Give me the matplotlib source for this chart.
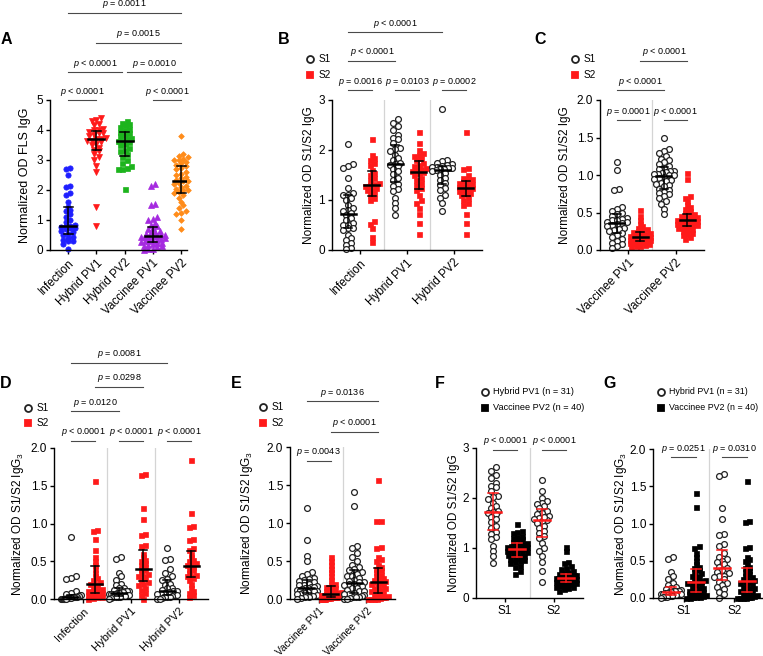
import numpy as np
import matplotlib
matplotlib.use("Agg")
import matplotlib.pyplot as plt
from matplotlib.lines import Line2D

plt.rcParams['font.family'] = ['Liberation Sans', 'DejaVu Sans']
plt.rcParams['mathtext.fontset'] = 'custom'
plt.rcParams['mathtext.it'] = 'Liberation Sans:italic'
plt.rcParams['mathtext.rm'] = 'Liberation Sans'

# ---- data ----
fls_groups = ["Infection", "Hybrid PV1", "Hybrid PV2", "Vaccinee PV1", "Vaccinee PV2"]
fls_inf = [2.75, 2.70, 2.50, 2.15, 2.10, 1.90, 1.85, 1.60, 1.45, 1.35, 1.30, 1.20, 1.10, 1.00, 0.95, 0.85,
           0.80, 0.80, 0.78, 0.75, 0.75, 0.70, 0.65, 0.60, 0.55, 0.50, 0.45, 0.40, 0.35, 0.30, 0.30, 0.20, 0.02]
fls_hpv1 = [4.40, 4.35, 4.30, 4.20, 4.15, 4.05, 4.00, 4.00, 3.95, 3.90, 3.90, 3.85, 3.80, 3.75, 3.70, 3.65,
            3.60, 3.55, 3.50, 3.40, 3.35, 3.30, 3.20, 3.10, 3.00, 2.80, 2.60, 1.45, 0.80, 3.70, 3.65]
fls_hpv2 = [4.30, 4.25, 4.20, 4.15, 4.10, 4.05, 4.00, 3.95, 3.90, 3.85, 3.80, 3.75, 3.70, 3.65, 3.65,
            3.60, 3.55, 3.50, 3.40, 3.35, 3.30, 3.20, 3.10, 3.00, 2.90, 2.80, 2.75, 2.70, 2.70, 2.05]
fls_vpv1 = [2.20, 2.15, 1.55, 1.50, 1.10, 1.05, 1.00, 0.90, 0.85, 0.80, 0.75, 0.70, 0.65, 0.60, 0.60, 0.55,
            0.50, 0.50, 0.48, 0.47, 0.45, 0.45, 0.42, 0.40, 0.38, 0.35, 0.33, 0.30, 0.30, 0.28, 0.25, 0.22,
            0.20, 0.18, 0.15, 0.12, 0.10, 0.05, 0.02, 0.00]
fls_vpv2 = [3.80, 3.20, 3.15, 3.10, 3.05, 3.00, 3.00, 2.95, 2.90, 2.85, 2.80, 2.75, 2.70, 2.60, 2.55, 2.50,
            2.45, 2.40, 2.35, 2.30, 2.30, 2.25, 2.20, 2.15, 2.10, 2.05, 2.00, 2.00, 1.95, 1.90, 1.85, 1.75,
            1.60, 1.50, 1.40, 1.30, 1.25, 1.20, 1.00, 0.70]

# IgG S1 / S2
igg_inf_s1 = [2.12, 1.72, 1.68, 1.65, 1.45, 1.25, 1.15, 1.10, 1.10, 1.05, 1.00, 0.90, 0.85, 0.80, 0.78, 0.75,
              0.70, 0.65, 0.60, 0.55, 0.50, 0.50, 0.45, 0.45, 0.40, 0.30, 0.25, 0.20, 0.15, 0.10, 0.05, 0.02]
igg_inf_s2 = [2.22, 1.90, 1.85, 1.80, 1.75, 1.70, 1.60, 1.55, 1.50, 1.45, 1.40, 1.35, 1.32, 1.30, 1.28, 1.25,
              1.20, 1.20, 1.15, 1.10, 1.05, 1.00, 0.58, 0.53, 0.45, 0.27, 0.17]
igg_hpv1_s1 = [2.62, 2.55, 2.47, 2.40, 2.30, 2.25, 2.22, 2.15, 2.05, 2.02, 1.98, 1.90, 1.85, 1.80, 1.75, 1.72,
               1.70, 1.68, 1.62, 1.58, 1.52, 1.45, 1.40, 1.33, 1.28, 1.22, 1.18, 1.05, 0.95, 0.85, 0.70]
igg_hpv1_s2 = [2.37, 2.15, 2.00, 1.95, 1.90, 1.88, 1.85, 1.80, 1.75, 1.70, 1.68, 1.65, 1.60, 1.58, 1.57, 1.55,
               1.50, 1.45, 1.40, 1.35, 1.30, 1.25, 1.20, 1.10, 1.00, 0.95, 0.85, 0.72, 0.55, 0.33, 1.62]
igg_hpv2_s1 = [2.83, 1.80, 1.78, 1.75, 1.72, 1.70, 1.68, 1.67, 1.66, 1.65, 1.64, 1.63, 1.62, 1.60, 1.58, 1.55,
               1.50, 1.45, 1.40, 1.35, 1.30, 1.25, 1.20, 1.10, 1.05, 0.95, 0.78]
igg_hpv2_s2 = [2.37, 1.65, 1.62, 1.50, 1.45, 1.42, 1.40, 1.38, 1.35, 1.32, 1.30, 1.28, 1.27, 1.25, 1.22, 1.20,
               1.18, 1.15, 1.12, 1.10, 1.05, 1.00, 0.95, 0.90, 0.72, 0.55, 0.32]
igg_vpv1_s1 = [1.17, 1.07, 0.81, 0.80, 0.57, 0.55, 0.52, 0.50, 0.48, 0.45, 0.43, 0.42, 0.40, 0.40, 0.38, 0.37,
               0.36, 0.35, 0.33, 0.32, 0.30, 0.28, 0.27, 0.25, 0.23, 0.20, 0.18, 0.15, 0.12, 0.10, 0.08, 0.05, 0.03]
igg_vpv1_s2 = [0.53, 0.45, 0.40, 0.35, 0.32, 0.30, 0.28, 0.27, 0.25, 0.24, 0.23, 0.22, 0.21, 0.20, 0.20, 0.19,
               0.18, 0.18, 0.17, 0.16, 0.15, 0.15, 0.14, 0.13, 0.12, 0.12, 0.11, 0.10, 0.10, 0.09, 0.08, 0.07,
               0.06, 0.05, 0.04]
igg_vpv2_s1 = [1.49, 1.35, 1.32, 1.30, 1.25, 1.22, 1.20, 1.18, 1.15, 1.12, 1.10, 1.08, 1.06, 1.05, 1.04, 1.03,
               1.02, 1.01, 1.00, 1.00, 0.98, 0.96, 0.95, 0.93, 0.92, 0.90, 0.88, 0.87, 0.85, 0.82, 0.80, 0.78,
               0.76, 0.75, 0.72, 0.70, 0.65, 0.62, 0.55, 0.48]
igg_vpv2_s2 = [1.03, 0.95, 0.72, 0.70, 0.65, 0.60, 0.58, 0.55, 0.52, 0.50, 0.48, 0.47, 0.46, 0.45, 0.44, 0.43,
               0.42, 0.42, 0.41, 0.40, 0.40, 0.39, 0.38, 0.37, 0.36, 0.35, 0.35, 0.34, 0.33, 0.32, 0.30, 0.30,
               0.28, 0.27, 0.25, 0.23, 0.22, 0.20, 0.18, 0.15]

# IgG3 S1 / S2
g3_inf_s1 = [0.82, 0.30, 0.28, 0.27, 0.10, 0.08, 0.06, 0.05, 0.05, 0.04, 0.04, 0.03, 0.03, 0.03, 0.02, 0.02,
             0.02, 0.02, 0.01, 0.01, 0.01, 0.01, 0.01, 0.00, 0.00, 0.00, 0.00, 0.00, 0.00, 0.00]
g3_inf_s2 = [1.56, 0.92, 0.90, 0.80, 0.65, 0.55, 0.50, 0.45, 0.40, 0.35, 0.30, 0.28, 0.25, 0.22, 0.20, 0.20,
             0.18, 0.15, 0.13, 0.12, 0.10, 0.10, 0.08, 0.07, 0.05, 0.05, 0.03, 0.02, 0.01, 0.00]
g3_hpv1_s1 = [0.55, 0.53, 0.35, 0.30, 0.25, 0.20, 0.18, 0.15, 0.14, 0.12, 0.11, 0.10, 0.10, 0.09, 0.09, 0.08,
              0.08, 0.07, 0.07, 0.06, 0.06, 0.05, 0.05, 0.04, 0.04, 0.03, 0.03, 0.02, 0.02, 0.01, 0.00]
g3_hpv1_s2 = [1.66, 1.64, 1.21, 1.06, 0.86, 0.85, 0.72, 0.70, 0.60, 0.55, 0.52, 0.50, 0.48, 0.45, 0.42, 0.40,
              0.38, 0.35, 0.33, 0.30, 0.30, 0.28, 0.25, 0.22, 0.20, 0.18, 0.15, 0.12, 0.08, 0.05, 0.00]
g3_hpv2_s1 = [0.67, 0.53, 0.52, 0.40, 0.35, 0.30, 0.27, 0.25, 0.20, 0.18, 0.15, 0.14, 0.12, 0.10, 0.10, 0.09,
              0.08, 0.07, 0.06, 0.05, 0.05, 0.04, 0.03, 0.03, 0.02, 0.01, 0.00, 0.00]
g3_hpv2_s2 = [1.84, 1.14, 0.97, 0.96, 0.80, 0.78, 0.67, 0.65, 0.60, 0.55, 0.52, 0.50, 0.48, 0.47, 0.45, 0.42,
              0.40, 0.38, 0.35, 0.32, 0.30, 0.30, 0.28, 0.25, 0.20, 0.15, 0.10, 0.08, 0.05, 0.02]
g3_vpv1_s1 = [1.20, 0.77, 0.57, 0.50, 0.35, 0.33, 0.30, 0.28, 0.26, 0.25, 0.24, 0.22, 0.20, 0.19, 0.18, 0.17,
              0.16, 0.16, 0.15, 0.14, 0.13, 0.12, 0.12, 0.11, 0.10, 0.10, 0.09, 0.08, 0.08, 0.07, 0.06, 0.05,
              0.04, 0.03, 0.02, 0.01, 0.00]
g3_vpv1_s2 = [0.55, 0.50, 0.45, 0.40, 0.35, 0.30, 0.25, 0.20, 0.18, 0.16, 0.14, 0.12, 0.10, 0.09, 0.08, 0.08,
              0.07, 0.07, 0.06, 0.06, 0.05, 0.05, 0.04, 0.04, 0.03, 0.03, 0.02, 0.02, 0.02, 0.01, 0.01, 0.01,
              0.00, 0.00, 0.00, 0.00]
g3_vpv2_s1 = [1.41, 1.22, 0.70, 0.67, 0.60, 0.55, 0.50, 0.45, 0.42, 0.40, 0.38, 0.35, 0.33, 0.30, 0.30, 0.28,
              0.25, 0.24, 0.23, 0.22, 0.20, 0.20, 0.18, 0.17, 0.15, 0.14, 0.12, 0.10, 0.10, 0.08, 0.07, 0.06,
              0.05, 0.04, 0.03, 0.02, 0.02, 0.01, 0.00, 0.00]
g3_vpv2_s2 = [1.57, 1.03, 1.02, 0.68, 0.67, 0.55, 0.52, 0.50, 0.45, 0.42, 0.40, 0.38, 0.35, 0.32, 0.30, 0.28,
              0.26, 0.25, 0.24, 0.23, 0.22, 0.20, 0.18, 0.17, 0.15, 0.14, 0.12, 0.10, 0.10, 0.08, 0.06, 0.05,
              0.04, 0.03, 0.02, 0.01, 0.00, 0.00, 0.00, 0.00]

W, H = 763, 656
fig = plt.figure(figsize=(W / 100, H / 100), dpi=100)


def add_ax(l, t, w, h, xlim, ylim):
    ax = fig.add_axes([l / W, 1 - (t + h) / H, w / W, h / H])
    ax.set_xlim(*xlim)
    ax.set_ylim(*ylim)
    ax.spines[['top', 'right']].set_visible(False)
    for s in ('left', 'bottom'):
        ax.spines[s].set_linewidth(1.0)
    ax.tick_params(length=3, width=1.0, labelsize=8.5, pad=2)
    ax.ppx = w / (xlim[1] - xlim[0])
    ax.ppy = h / (ylim[1] - ylim[0])
    ax.box = (l, t, w, h)
    return ax


def swarm(vals, ax, d, maxw):
    # rows of points at similar height, spread sideways (GraphPad-like), offsets in data units
    ypx = np.asarray(vals, float) * ax.ppy
    xs = np.zeros(len(ypx))
    rows, cur, start = [], [], None
    for i in np.argsort(ypx, kind='stable'):
        if start is None or ypx[i] - start >= 0.8 * d:
            if cur:
                rows.append(cur)
            cur, start = [i], ypx[i]
        else:
            cur.append(i)
    rows.append(cur)
    for r in rows:
        n = len(r)
        if n > 1:
            step = min(d, 2 * maxw / (n - 1))
            for k, i in enumerate(r):
                xs[i] = (k - (n - 1) / 2) * step
    return xs / ax.ppx


def group(ax, xc, vals, marker, mfc, mec, ms=3.8, mew=0.9, d=4.6, maxw=10, ecol='black', medw=8, capw=4.5):
    vals = np.asarray(vals, float)
    off = swarm(vals, ax, d, maxw)
    ax.plot(xc + off, vals, ls='none', marker=marker, ms=ms, mfc=mfc, mec=mec, mew=mew,
            zorder=2, clip_on=False)
    q1, med, q3 = np.percentile(vals, [25, 50, 75])
    ax.plot([xc, xc], [q1, q3], color=ecol, lw=1.1, zorder=3)
    for q in (q1, q3):
        ax.plot([xc - capw / ax.ppx, xc + capw / ax.ppx], [q, q], color=ecol, lw=1.1, zorder=3)
    ax.plot([xc - medw / ax.ppx, xc + medw / ax.ppx], [med, med], color=ecol, lw=1.8, zorder=3)


def bracket(ax, x1, x2, y, txt):
    ax.plot([x1, x2], [y, y], color='#4a4a4a', lw=0.8, clip_on=False)
    ax.annotate(txt, ((x1 + x2) / 2, y), xytext=(0, 1.8), textcoords='offset points',
                ha='center', va='bottom', fontsize=6.5, annotation_clip=False)


def ylabel(ax, txt, xpx, size=8.5):
    # xpx = wanted centre of the label in pixels
    l, t, w, h = ax.box
    ax.set_ylabel(txt, fontsize=size)
    ax.yaxis.set_label_coords((xpx + 8 - l) / w, 0.5)


def yfmt(ax, ticks, fmt):
    ax.set_yticks(ticks)
    ax.set_yticklabels([fmt.format(v) for v in ticks])


def seps(ax, xs):
    for x in xs:
        ax.axvline(x, color='#d4d4d4', lw=0.9, zorder=0)


def legend_item(xp, yp, marker, mfc, mec, label, ms=5.0, dx=9, size=7.2):
    fig.add_artist(Line2D([xp / W], [1 - yp / H], marker=marker, ms=ms, mfc=mfc, mec=mec, mew=1.3,
                          ls='none', transform=fig.transFigure))
    fig.text((xp + dx) / W, 1 - yp / H, label, fontsize=size, va='center', ha='left')


def letter(xp, yp, s):
    fig.text(xp / W, 1 - yp / H, s, fontsize=11.5, fontweight='bold', ha='center', va='center')


def rot_labels(ax, ticks, labels, size=8.5):
    ax.set_xticks(ticks)
    ax.set_xticklabels(labels, rotation=45, ha='right', rotation_mode='anchor', fontsize=size)


lt = r'$p$ < 0.0001'
def eq(v):
    return r'$p$ = ' + v


S1 = dict(marker='o', mfc='white', mec='#222222', ms=4.2, mew=0.9, d=5.0)
S2 = dict(marker='s', mfc='#ff1a1a', mec='#ff1a1a', ms=3.6, mew=0.5, d=4.6)

# ---------- A ----------
axA = add_ax(50, 100, 137, 150, (-0.64, 4.21), (0, 5))
axA.set_yticks(range(6))
group(axA, 0, fls_inf, 'o', '#1f1fff', '#1f1fff', ms=3.8, mew=0.5, maxw=12)
group(axA, 1, fls_hpv1, 'v', '#ff1a1a', '#ff1a1a', ms=4.0, mew=0.5, maxw=12)
group(axA, 2, fls_hpv2, 's', '#1db41d', '#1db41d', ms=3.6, mew=0.5, maxw=12)
group(axA, 3, fls_vpv1, '^', '#a52ae0', '#a52ae0', ms=4.0, mew=0.5, maxw=12)
group(axA, 4, fls_vpv2, 'D', '#ff8c1a', '#ff8c1a', ms=2.9, mew=0.5, maxw=12)
rot_labels(axA, range(5), fls_groups)
ylabel(axA, 'Normalized OD FLS IgG', 23, 9)
bracket(axA, 0, 1, 5.0, lt)
bracket(axA, 3, 4, 5.0, lt)
bracket(axA, 0, 1.9, 5.93, lt)
bracket(axA, 2.1, 4, 5.93, eq('0.0010'))
bracket(axA, 1, 4, 6.9, eq('0.0015'))
bracket(axA, 0, 4, 7.9, eq('0.0011'))
letter(6, 40, 'A')

# ---------- B ----------
axB = add_ax(332, 100, 150, 150, (-1.8, 7.8), (0, 3))
axB.set_yticks(range(4))
seps(axB, [1.5, 4.5])
for c, s1, s2 in [(0, igg_inf_s1, igg_inf_s2), (3, igg_hpv1_s1, igg_hpv1_s2), (6, igg_hpv2_s1, igg_hpv2_s2)]:
    group(axB, c - 0.75, s1, medw=7.5, capw=4, **S1)
    group(axB, c + 0.75, s2, medw=7.5, capw=4, **S2)
rot_labels(axB, [0, 3, 6], fls_groups[:3])
ylabel(axB, 'Normalized OD S1/S2 IgG', 307)
bracket(axB, -0.75, 0.75, 3.2, eq('0.0016'))
bracket(axB, 2.25, 3.75, 3.2, eq('0.0103'))
bracket(axB, 5.25, 6.75, 3.2, eq('0.0002'))
bracket(axB, -0.75, 2.25, 3.78, lt)
bracket(axB, -0.75, 5.25, 4.36, lt)
legend_item(310, 59, 'o', 'white', '#222222', 'S1')
legend_item(310, 75, 's', '#ff1a1a', '#ff1a1a', 'S2')
letter(284, 40, 'B')

# ---------- C ----------
axC = add_ax(600, 100, 104, 150, (-1.8, 4.8), (0, 2))
yfmt(axC, [0, 0.5, 1.0, 1.5, 2.0], '{:.1f}')
seps(axC, [1.5])
for c, s1, s2 in [(0, igg_vpv1_s1, igg_vpv1_s2), (3, igg_vpv2_s1, igg_vpv2_s2)]:
    group(axC, c - 0.75, s1, medw=7.5, capw=4, **S1)
    group(axC, c + 0.75, s2, medw=7.5, capw=4, **S2)
rot_labels(axC, [0, 3], fls_groups[3:])
ylabel(axC, 'Normalized OD S1/S2 IgG', 563)
bracket(axC, -0.75, 0.75, 1.733, eq('0.0001'))
bracket(axC, 2.25, 3.75, 1.733, lt)
bracket(axC, -0.75, 2.25, 2.133, lt)
bracket(axC, 0.75, 3.75, 2.52, lt)
legend_item(575, 59, 'o', 'white', '#222222', 'S1')
legend_item(575, 75, 's', '#ff1a1a', '#ff1a1a', 'S2')
letter(540, 40, 'C')

# ---------- D ----------
axD = add_ax(54, 448, 154, 151, (-1.8, 7.8), (0, 2))
yfmt(axD, [0, 0.5, 1.0, 1.5, 2.0], '{:.1f}')
seps(axD, [1.5, 4.5])
for c, s1, s2 in [(0, g3_inf_s1, g3_inf_s2), (3, g3_hpv1_s1, g3_hpv1_s2), (6, g3_hpv2_s1, g3_hpv2_s2)]:
    group(axD, c - 0.75, s1, medw=7.5, capw=4, **S1)
    group(axD, c + 0.75, s2, medw=7.5, capw=4, **S2)
rot_labels(axD, [0, 3, 6], fls_groups[:3], 8)
ylabel(axD, 'Normalized OD S1/S2 IgG$_3$', 18)
bracket(axD, -0.75, 0.75, 2.093, lt)
bracket(axD, 2.25, 3.75, 2.093, lt)
bracket(axD, 5.25, 6.75, 2.093, lt)
bracket(axD, -0.75, 2.25, 2.49, eq('0.0120'))
bracket(axD, 0.75, 3.75, 2.81, eq('0.0298'))
bracket(axD, -0.75, 5.25, 3.13, eq('0.0081'))
legend_item(28, 408, 'o', 'white', '#222222', 'S1')
legend_item(28, 423, 's', '#ff1a1a', '#ff1a1a', 'S2')
letter(6, 383, 'D')

# ---------- E ----------
axE = add_ax(290, 447, 105, 152, (-1.8, 4.8), (0, 2))
yfmt(axE, [0, 0.5, 1.0, 1.5, 2.0], '{:.1f}')
seps(axE, [1.5])
for c, s1, s2 in [(0, g3_vpv1_s1, g3_vpv1_s2), (3, g3_vpv2_s1, g3_vpv2_s2)]:
    group(axE, c - 0.75, s1, medw=7.5, capw=4, **S1)
    group(axE, c + 0.75, s2, medw=7.5, capw=4, **S2)
rot_labels(axE, [0, 3], fls_groups[3:], 7.3)
ylabel(axE, 'Normalized OD S1/S2 IgG$_3$', 247)
bracket(axE, -0.75, 0.75, 1.82, eq('0.0043'))
bracket(axE, 0.75, 3.75, 2.2, lt)
bracket(axE, -0.75, 3.75, 2.6, eq('0.0136'))
legend_item(263, 407, 'o', 'white', '#222222', 'S1')
legend_item(263, 423, 's', '#ff1a1a', '#ff1a1a', 'S2')
letter(236, 383, 'E')

# ---------- F ----------
HP = dict(marker='o', mfc='white', mec='#222222', ms=4.2, mew=0.9, d=5.0)
VP = dict(marker='s', mfc='black', mec='black', ms=3.6, mew=0.5, d=4.6)
red = '#ff1a1a'
axF = add_ax(476, 448, 107, 150, (-1.8, 4.8), (0, 3))
axF.set_yticks(range(4))
seps(axF, [1.5])
for c, a, b in [(0, igg_hpv1_s1, igg_vpv2_s1), (3, igg_hpv1_s2, igg_vpv2_s2)]:
    group(axF, c - 0.75, a, ecol=red, medw=8, capw=5, **HP)
    group(axF, c + 0.75, b, ecol=red, medw=8, capw=5, **VP)
axF.set_xticks([0, 3])
axF.set_xticklabels(['S1', 'S2'])
ylabel(axF, 'Normalized OD S1/S2 IgG', 452)
bracket(axF, -0.75, 0.75, 2.97, lt)
bracket(axF, 2.25, 3.75, 2.97, lt)
legend_item(485, 392, 'o', 'white', '#222222', 'Hybrid PV1 (n = 31)', dx=8, size=6.6)
legend_item(485, 408, 's', 'black', 'black', 'Vaccinee PV2 (n = 40)', dx=8, size=6.6)
letter(440, 383, 'F')

# ---------- G ----------
axG = add_ax(653, 449, 112, 149, (-1.8, 4.8), (0, 2))
yfmt(axG, [0, 0.5, 1.0, 1.5, 2.0], '{:.1f}')
seps(axG, [1.5])
for c, a, b in [(0, g3_hpv1_s1, g3_vpv2_s1), (3, g3_hpv1_s2, g3_vpv2_s2)]:
    group(axG, c - 0.75, a, ecol=red, medw=8, capw=5, **HP)
    group(axG, c + 0.75, b, ecol=red, medw=8, capw=5, **VP)
axG.set_xticks([0, 3])
axG.set_xticklabels(['S1', 'S2'])
ylabel(axG, 'Normalized OD S1/S2 IgG$_3$', 621)
bracket(axG, -0.75, 0.75, 1.89, eq('0.0251'))
bracket(axG, 2.25, 3.75, 1.89, eq('0.0310'))
legend_item(661, 392, 'o', 'white', '#222222', 'Hybrid PV1 (n = 31)', dx=8, size=6.4)
legend_item(661, 408, 's', 'black', 'black', 'Vaccinee PV2 (n = 40)', dx=8, size=6.4)
letter(610, 383, 'G')

fig.savefig('out.png', dpi=100)
